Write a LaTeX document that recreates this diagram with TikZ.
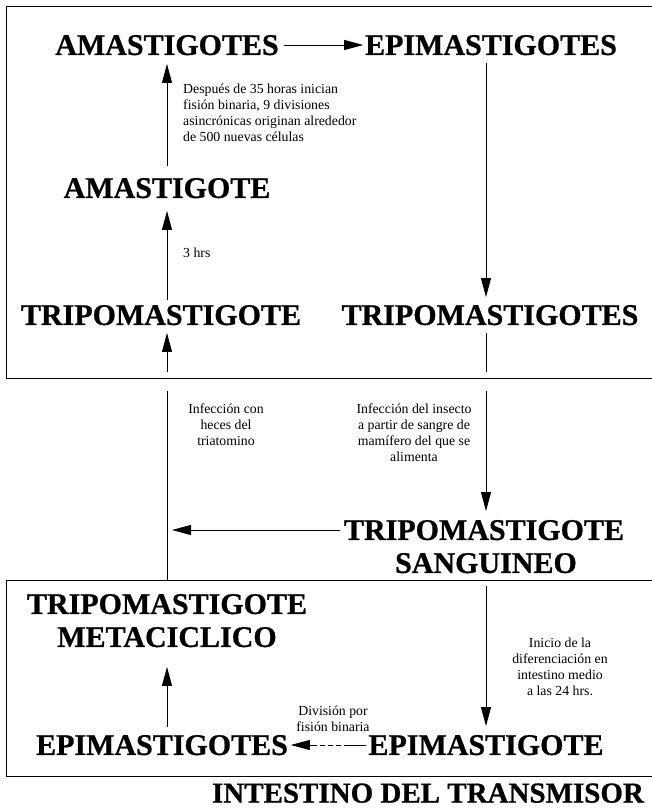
\documentclass[tikz,border=0pt]{standalone}
\usepackage{fontspec}
\setmainfont{Liberation Serif}
\newfontfamily\bigfont{Liberation Serif Bold}[FakeBold=0.8]
\usetikzlibrary{arrows.meta}
\tikzset{
  big/.style={font=\bigfont\fontsize{30}{33}\selectfont, inner sep=0pt, outer sep=0pt, text height=19.9pt, text depth=0pt},
  note/.style={font=\fontsize{13.8}{16}\selectfont, inner sep=0pt, align=left},
  notec/.style={note, align=center},
  arr/.style={line width=0.8pt, -{Triangle[length=19pt,width=10pt]}},
  ln/.style={line width=0.8pt},
  frame/.style={line width=0.9pt},
}
\begin{document}
\begin{tikzpicture}[x=1pt,y=-1pt]
\useasboundingbox (0,0) rectangle (651,809);
% frames
\draw[frame] (6,6) rectangle (700,378);
\draw[frame] (6,580) rectangle (700,776);
% column coordinates
\coordinate (cL) at (167,0);
\coordinate (cR) at (486,0);
\coordinate (bL) at (167,372);
\coordinate (bR) at (486,372);
\coordinate (mL) at (167,391);
\coordinate (mLb) at (167,580);
\coordinate (mR) at (486,391);
\coordinate (lR) at (486,586);
% big labels
\node[big] (A1) at (167,45) {AMASTIGOTES};
\node[big] (E1) at (491,45) {EPIMASTIGOTES};
\node[big] (A2) at (167,188) {AMASTIGOTE};
\node[big] (T1) at (161,315) {TRIPOMASTIGOTE};
\node[big] (T2) at (490,315) {TRIPOMASTIGOTES};
\node[big] (TS) at (484,530) {TRIPOMASTIGOTE};
\node[big] (SG) at (486,563) {SANGUINEO};
\node[big] (TM) at (167,604) {TRIPOMASTIGOTE};
\node[big] (MC) at (167,637) {METACICLICO};
\node[big] (ES) at (162,745) {EPIMASTIGOTES};
\node[big] (EP) at (486,745) {EPIMASTIGOTE};
\node[big, font=\bigfont\fontsize{29}{33}\selectfont, text height=19.2pt] (IT) at (428,793) {INTESTINO DEL TRANSMISOR};
% notes
\node[note, anchor=north west] (n1) at (183,84) {Después de 35 horas inician\\fisión binaria, 9 divisiones\\asincrónicas originan alrededor\\de 500 nuevas células};
\node[note, anchor=west] (n2) at (183,253) {3 hrs};
\node[notec] (n3) at (226,425) {Infección con\\heces del\\triatomino};
\node[notec] (n4) at (414,433) {Infección del insecto\\a partir de sangre de\\mamífero del que se\\alimenta};
\node[notec] (n5) at (560,667) {Inicio de la\\diferenciación en\\intestino medio\\a las 24 hrs.};
\node[notec] (n6) at (333,719) {División por\\fisión binaria};
% connectors top box
\draw[arr, shorten <=5pt, shorten >=2pt] (A1.east) -- (E1.west);
\draw[arr, shorten <=12pt, shorten >=9pt] (A2.north) -- (A1.south);
\draw[arr, shorten <=5pt, shorten >=13pt] (T1.north -| cL) -- (A2.south -| cL);
\draw[arr, shorten >=8pt] (bL) -- (T1.south -| cL);
\draw[arr, shorten <=8pt, shorten >=8pt] (E1.south -| cR) -- (T2.north -| cR);
\draw[ln, shorten <=8pt] (T2.south -| cR) -- (bR);
% middle
\draw[ln] (mL) -- (mLb);
\draw[arr, shorten >=9pt] (mR) -- (TS.north -| cR);
\draw[arr, shorten <=4pt, shorten >=5pt] (TS.west) -- (TS.west -| cL);
% bottom box
\draw[arr, shorten >=9pt] (lR) -- (EP.north -| cR);
\draw[arr, shorten <=8pt, shorten >=20pt] (ES.north -| cL) -- (MC.south -| cL);
\draw[arr, shorten <=2pt, shorten >=3pt, dash pattern=on 22pt off 3pt on 5pt off 3pt on 5pt off 3pt on 5pt off 3pt on 60pt] (EP.west) -- (ES.east);
\end{tikzpicture}
\end{document}
